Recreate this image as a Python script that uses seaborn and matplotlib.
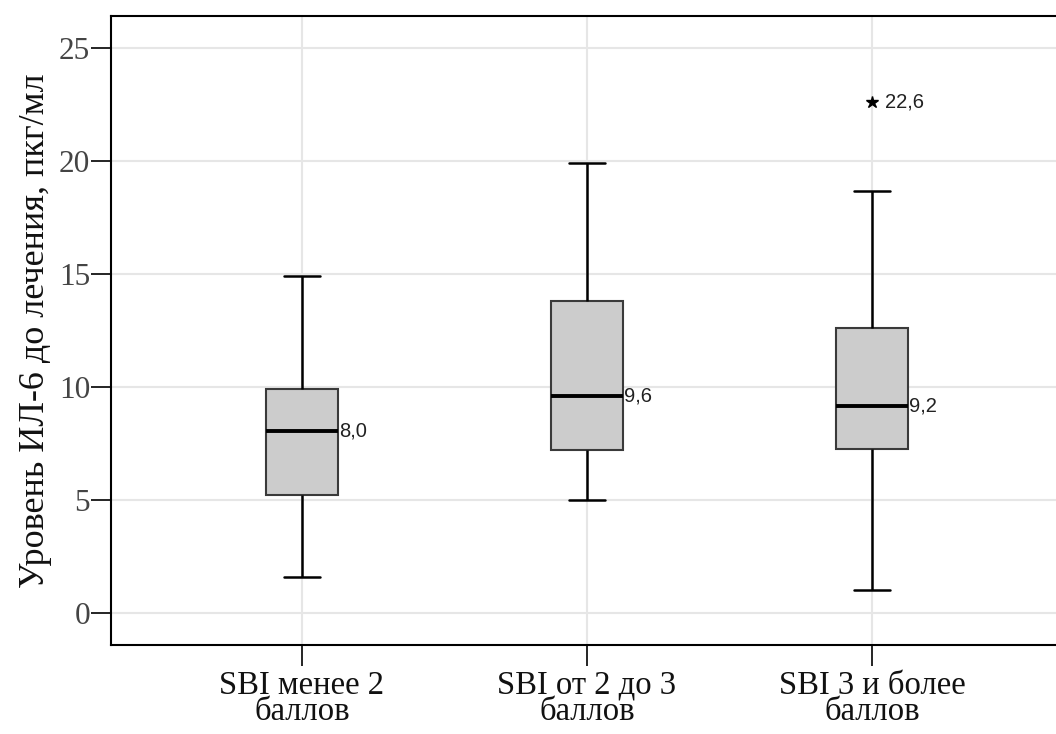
import numpy as np
import pandas as pd
import matplotlib
matplotlib.use("Agg")
import matplotlib.pyplot as plt
import seaborn as sns

# ---- data ----
categories = ["SBI менее 2\nбаллов", "SBI от 2 до 3\nбаллов", "SBI 3 и более\nбаллов"]
lower_whisker = [1.6, 5.0, 1.0]
q1 = [5.2, 7.2, 7.25]
median = [8.05, 9.6, 9.15]
q3 = [9.9, 13.8, 12.6]
upper_whisker = [14.9, 19.9, 18.65]
outliers = [[], [], [22.6]]
median_labels = ["8,0", "9,6", "9,2"]
outlier_labels = [[], [], ["22,6"]]
y_ticks = [0, 5, 10, 15, 20, 25]
y_label = "Уровень ИЛ-6 до лечения, пкг/мл"

# Build sample values whose five-number summary reproduces the statistics above
rows = []
for i, cat in enumerate(categories):
    vals = [lower_whisker[i], q1[i], q1[i], median[i], median[i], q3[i], q3[i], upper_whisker[i]]
    vals += outliers[i]
    for v in vals:
        rows.append({"group": cat, "value": v})
df = pd.DataFrame(rows)

sns.set_theme(style="white")
plt.rcParams["font.family"] = ["Liberation Serif", "DejaVu Serif"]

fig = plt.figure(figsize=(10.56, 7.34), dpi=100)
ax = fig.add_axes([111 / 1056, 1 - 645 / 734, 1 - 111 / 1056, (645 - 16) / 734])

# grid
for y in y_ticks:
    ax.axhline(y, color="#e6e6e6", lw=1.5, zorder=0)
for x in range(len(categories)):
    ax.axvline(x, color="#e6e6e6", lw=1.5, zorder=0)

sns.boxplot(
    data=df, x="group", y="value", order=categories, ax=ax,
    width=0.25, whis=1.5, color="#cccccc",
    boxprops=dict(facecolor="#cccccc", edgecolor="#3a3a3a", linewidth=1.5, zorder=2),
    medianprops=dict(color="black", linewidth=2.8, zorder=3),
    whiskerprops=dict(color="black", linewidth=1.8),
    capprops=dict(color="black", linewidth=1.8),
    capwidths=0.125,
    flierprops=dict(marker="*", markersize=9, markerfacecolor="black",
                    markeredgecolor="black", linestyle="none"),
)

# annotations
sans = ["Liberation Sans", "DejaVu Sans"]
for i in range(len(categories)):
    ax.text(i + 0.125 + 0.006, median[i], median_labels[i], ha="left", va="center",
            fontsize=14.5, family=sans, color="#222222", zorder=4)
    for v, lab in zip(outliers[i], outlier_labels[i]):
        ax.text(i + 0.045, v, lab, ha="left", va="center",
                fontsize=14.5, family=sans, color="#222222", zorder=4)

ax.set_xlim(-0.67, 2.646)
ax.set_ylim(-1.42, 26.4)
ax.set_yticks(y_ticks)
ax.set_yticklabels([str(t) for t in y_ticks])
ax.set_xlabel("")
ax.set_ylabel(y_label, fontsize=26, color="#111111")
ax.yaxis.set_label_coords(-0.062, 0.5)

ax.tick_params(axis="y", direction="out", length=14.5, width=1.2, color="black",
               pad=0.5, labelsize=22.5, labelcolor="#444444", left=True)
ax.tick_params(axis="x", direction="out", length=15, width=1.2, color="black",
               pad=3, labelsize=23.5, labelcolor="#111111", bottom=True)
for lab in ax.get_xticklabels():
    lab.set_linespacing(0.85)

for side in ["left", "top", "bottom"]:
    ax.spines[side].set_visible(True)
    ax.spines[side].set_color("black")
    ax.spines[side].set_linewidth(1.5)
ax.spines["right"].set_visible(False)

fig.savefig("out.png", dpi=100)
